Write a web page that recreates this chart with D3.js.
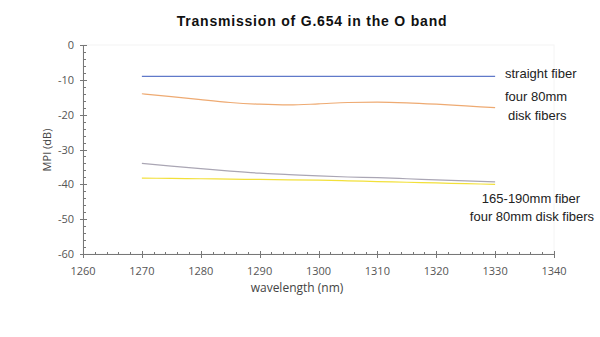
<!DOCTYPE html>
<html>
<head>
<meta charset="utf-8">
<script src="https://cdn.jsdelivr.net/npm/d3@7/dist/d3.min.js"></script>
<style>
  html, body { margin: 0; padding: 0; background: #fff; }
  svg { display: block; }
</style>
</head>
<body>
<svg id="chart" width="600" height="337"></svg>
<script>
// Wavelength samples (nm) and measured MPI (dB) for each fiber configuration
const wavelengths = [1270, 1275, 1280, 1285, 1290, 1295, 1300, 1305, 1310, 1315, 1320, 1325, 1330];
const straightFiber = [-9, -9, -9, -9, -9, -9, -9, -9, -9, -9, -9, -9, -9];
const fourDisk80 = [-14, -14.8, -15.7, -16.5, -17.0, -17.2, -16.9, -16.5, -16.4, -16.6, -17.0, -17.5, -18.0];
const fiber165to190 = [-34, -34.8, -35.5, -36.2, -36.8, -37.2, -37.6, -37.9, -38.1, -38.4, -38.7, -39.0, -39.3];
const fourDisk80b = [-38.2, -38.3, -38.4, -38.5, -38.6, -38.7, -38.8, -39.0, -39.2, -39.4, -39.6, -39.8, -40.0];

const xTicks = [1260, 1270, 1280, 1290, 1300, 1310, 1320, 1330, 1340];
const yTicks = [0, -10, -20, -30, -40, -50, -60];

const seriesList = [
  { name: "straight", values: straightFiber, color: "#6079c9" },
  { name: "four80", values: fourDisk80, color: "#eeaa72" },
  { name: "165-190", values: fiber165to190, color: "#aaa6b4" },
  { name: "four80b", values: fourDisk80b, color: "#f2e03a" }
];

const svg = d3.select("#chart");
const plotLeft = 83, plotRight = 554, plotTop = 45, plotBottom = 254;

const x = d3.scaleLinear().domain([1260, 1340]).range([plotLeft, plotRight]);
const y = d3.scaleLinear().domain([-60, 0]).range([plotBottom, plotTop]);

const fontTick = "'Open Sans', 'Noto Sans', sans-serif";
const fontText = "'Liberation Sans', Arial, sans-serif";

// Title
svg.append("text")
  .attr("x", 312).attr("y", 26)
  .attr("text-anchor", "middle")
  .attr("font-family", fontText)
  .attr("font-weight", "bold")
  .attr("font-size", 14)
  .attr("letter-spacing", 0.8)
  .attr("fill", "#111")
  .text("Transmission of G.654 in the O band");

// faint frame
svg.append("rect")
  .attr("x", plotLeft).attr("y", plotTop)
  .attr("width", plotRight - plotLeft).attr("height", plotBottom - plotTop)
  .attr("fill", "none").attr("stroke", "#f4f4f4").attr("stroke-width", 1);

const axisColor = "#777";

// X axis
const gx = svg.append("g");
gx.append("line")
  .attr("x1", plotLeft).attr("x2", plotRight)
  .attr("y1", plotBottom + 0.5).attr("y2", plotBottom + 0.5)
  .attr("stroke", axisColor);
const xMinor = d3.range(1262, 1340, 2).filter(v => v % 10 !== 0);
gx.selectAll(".xminor").data(xMinor).join("line")
  .attr("x1", d => Math.round(x(d)) + 0.5).attr("x2", d => Math.round(x(d)) + 0.5)
  .attr("y1", plotBottom - 2).attr("y2", plotBottom)
  .attr("stroke", axisColor);
gx.selectAll(".xmajor").data(xTicks).join("line")
  .attr("x1", d => Math.round(x(d)) + 0.5).attr("x2", d => Math.round(x(d)) + 0.5)
  .attr("y1", plotBottom - 3).attr("y2", plotBottom + 4)
  .attr("stroke", axisColor);
gx.selectAll("text").data(xTicks).join("text")
  .attr("x", d => x(d)).attr("y", plotBottom + 21)
  .attr("text-anchor", "middle")
  .attr("font-family", fontTick).attr("font-size", 11)
  .attr("fill", "#555")
  .text(d => d);

// Y axis
const gy = svg.append("g");
gy.append("line")
  .attr("x1", plotLeft + 0.5).attr("x2", plotLeft + 0.5)
  .attr("y1", plotTop).attr("y2", plotBottom)
  .attr("stroke", axisColor);
const yMinor = d3.range(-58, 0, 2).filter(v => v % 10 !== 0);
gy.selectAll(".yminor").data(yMinor).join("line")
  .attr("x1", plotLeft).attr("x2", plotLeft + 3)
  .attr("y1", d => Math.round(y(d)) + 0.5).attr("y2", d => Math.round(y(d)) + 0.5)
  .attr("stroke", axisColor);
gy.selectAll(".ymajor").data(yTicks).join("line")
  .attr("x1", plotLeft - 3).attr("x2", plotLeft + 4)
  .attr("y1", d => Math.round(y(d)) + 0.5).attr("y2", d => Math.round(y(d)) + 0.5)
  .attr("stroke", axisColor);
gy.selectAll("text").data(yTicks).join("text")
  .attr("x", plotLeft - 9).attr("y", d => y(d) + 4)
  .attr("text-anchor", "end")
  .attr("font-family", fontTick).attr("font-size", 11)
  .attr("fill", "#555")
  .text(d => d);

// Axis titles
svg.append("text")
  .attr("x", 297).attr("y", 292)
  .attr("text-anchor", "middle")
  .attr("font-family", fontTick).attr("font-size", 12)
  .attr("fill", "#444")
  .text("wavelength (nm)");
svg.append("text")
  .attr("transform", "translate(51,150) rotate(-90)")
  .attr("text-anchor", "middle")
  .attr("font-family", fontTick).attr("font-size", 11)
  .attr("fill", "#444")
  .text("MPI  (dB)");

// Curves
const line = d3.line()
  .x((d, i) => x(wavelengths[i]))
  .y(d => y(d))
  .curve(d3.curveMonotoneX);

svg.append("g").selectAll("path").data(seriesList).join("path")
  .attr("d", s => line(s.values))
  .attr("fill", "none")
  .attr("stroke", d => d.color)
  .attr("stroke-width", 1.2);

// Series labels
const labels = [
  { t: "straight fiber", x: 505, y: 78, a: "start" },
  { t: "four 80mm", x: 505, y: 101, a: "start" },
  { t: "disk fibers", x: 508, y: 120, a: "start" },
  { t: "165-190mm fiber", x: 531, y: 203, a: "middle" },
  { t: "four 80mm disk fibers", x: 532, y: 221, a: "middle" }
];
svg.append("g").selectAll("text").data(labels).join("text")
  .attr("x", d => d.x).attr("y", d => d.y)
  .attr("text-anchor", d => d.a)
  .attr("font-family", fontText).attr("font-size", 13)
  .attr("fill", "#222")
  .text(d => d.t);
</script>
</body>
</html>
